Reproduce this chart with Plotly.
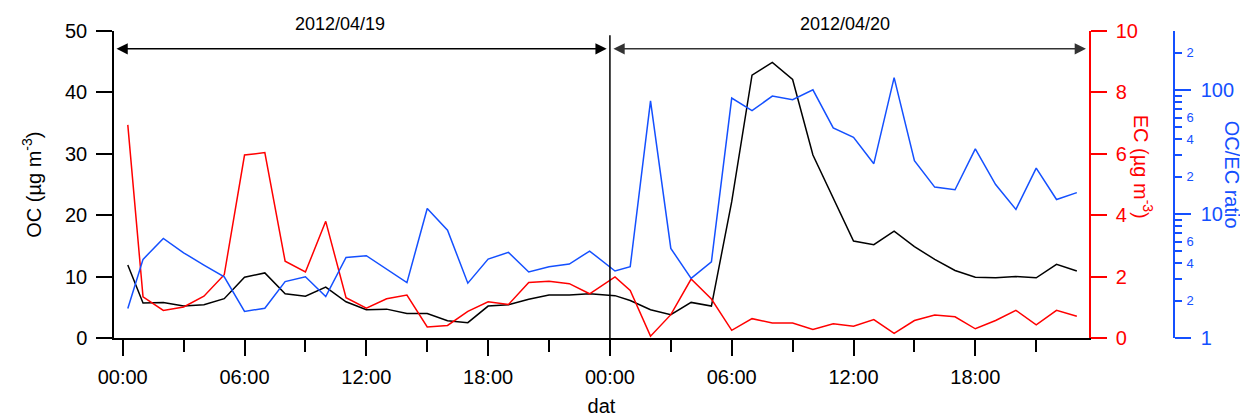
import plotly.graph_objects as go
import pandas as pd

# ---------------- data ----------------
times = (["2012-04-19 00:15"] + [f"2012-04-19 {h:02d}:00" for h in range(1, 24)]
         + ["2012-04-20 00:15"] + [f"2012-04-20 {h:02d}:00" for h in range(1, 24)])

oc = [11.9, 5.7, 5.8, 5.2, 5.4, 6.4, 9.9, 10.6, 7.2, 6.8, 8.3, 5.9,
      4.6, 4.7, 4.0, 4.0, 2.8, 2.5, 5.2, 5.4, 6.3, 7.0, 7.0, 7.2,
      6.9, 6.1, 4.6, 3.8, 5.8, 5.2, 22.2, 42.8, 44.9, 42.1, 29.8, 22.8,
      15.8, 15.2, 17.4, 14.9, 12.8, 11.0, 9.9, 9.8, 10.0, 9.8, 12.0, 10.9]

ec = [6.94, 1.34, 0.90, 1.01, 1.36, 2.06, 5.96, 6.04, 2.50, 2.15, 3.80, 1.31,
      0.97, 1.28, 1.40, 0.36, 0.41, 0.87, 1.18, 1.09, 1.81, 1.85, 1.77, 1.44,
      1.99, 1.55, 0.06, 0.76, 1.92, 1.27, 0.25, 0.63, 0.49, 0.49, 0.28, 0.46,
      0.38, 0.60, 0.15, 0.57, 0.75, 0.69, 0.30, 0.57, 0.90, 0.43, 0.90, 0.71]

ratio = [1.73, 4.31, 6.36, 4.87, 3.88, 3.12, 1.64, 1.74, 2.85, 3.12, 2.16, 4.47,
         4.61, 3.58, 2.80, 11.1, 7.41, 2.77, 4.33, 4.91, 3.41, 3.76, 3.95, 5.03,
         3.47, 3.76, 82.0, 5.28, 3.03, 4.12, 86.2, 68.2, 89.5, 83.6, 100.5, 49.5,
         41.6, 25.5, 126.0, 27.0, 16.5, 15.7, 33.6, 17.3, 10.9, 23.5, 13.1, 14.9]

day_labels = ["2012/04/19", "2012/04/20"]
oc_ticks = [0, 10, 20, 30, 40, 50]
ec_ticks = [0, 2, 4, 6, 8, 10]
ratio_major = [1, 10, 100]
ratio_minor = [2, 3, 4, 5, 6, 7, 8, 9, 20, 30, 40, 50, 60, 70, 80, 90, 200]
ratio_small_lab = [2, 4, 6, 20, 40, 60, 200]

# ---------------- styling ----------------
FONT = "Liberation Sans, Arial, sans-serif"
RED = "#FF0000"
BLUE = "#1450FF"
OFF = 8                      # default page body margin
W, HGT = 1248 - OFF, 417 - OFF
L, R = 114 - OFF, 20
T = 31 - OFF
B = HGT - (338.5 - OFF)
PW = W - L - R


def px(xp):                  # page pixel -> paper fraction (x)
    return (xp - 114) / PW


def py(yp):                  # page pixel -> paper fraction (y)
    return (338.5 - yp) / (338.5 - 31)


x = pd.to_datetime(times)
base = pd.Timestamp("2012-04-19 00:00")
H = pd.Timedelta(hours=1)

fig = go.Figure()
fig.add_trace(go.Scatter(x=x, y=oc, mode="lines", line=dict(color="black", width=1.5),
                         yaxis="y", showlegend=False))
fig.add_trace(go.Scatter(x=x, y=ec, mode="lines", line=dict(color=RED, width=1.5),
                         yaxis="y2", showlegend=False))
fig.add_trace(go.Scatter(x=x, y=ratio, mode="lines", line=dict(color=BLUE, width=1.5),
                         yaxis="y3", showlegend=False))
fig.add_trace(go.Scatter(x=x, y=ratio, mode="lines", line=dict(color=BLUE, width=0),
                         opacity=0, yaxis="y4", showlegend=False, hoverinfo="skip"))

xdom_end = px(1089)
blue_pos = px(1174)

fig.update_layout(
    width=W, height=HGT,
    margin=dict(l=L, r=R, t=T, b=B, autoexpand=False),
    paper_bgcolor="white", plot_bgcolor="white",
    font=dict(family=FONT, size=20, color="black"),
    xaxis=dict(
        domain=[0, xdom_end], type="date",
        range=[base - 0.43 * H, base + 47.6 * H],
        tickformat="%H:%M", tick0="2012-04-19 00:00", dtick=6 * 3600 * 1000,
        ticks="outside", ticklen=16, tickwidth=1.5, tickcolor="black",
        minor=dict(dtick=3 * 3600 * 1000, tick0="2012-04-19 00:00", ticks="outside",
                   ticklen=12, tickwidth=1.5, tickcolor="black", showgrid=False),
        showline=True, linecolor="black", linewidth=1.5,
        showgrid=False, zeroline=False,
        tickfont=dict(size=20), ticklabelstandoff=4,
        title=dict(text="dat", font=dict(size=20), standoff=12),
    ),
    yaxis=dict(
        range=[0, 50], tickvals=oc_ticks,
        ticks="outside", ticklen=16, tickwidth=1.5, tickcolor="black",
        showline=True, linecolor="black", linewidth=1.5,
        showgrid=False, zeroline=False, tickfont=dict(size=20), ticklabelstandoff=5,
    ),
    yaxis2=dict(
        overlaying="y", side="right", anchor="x",
        range=[0, 10], tickvals=ec_ticks,
        ticks="outside", ticklen=16, tickwidth=1.5, tickcolor=RED,
        showline=True, linecolor=RED, linewidth=1.5,
        showgrid=False, zeroline=False,
        tickfont=dict(size=20, color=RED), ticklabelstandoff=5,
    ),
    yaxis3=dict(
        overlaying="y", side="right", anchor="free", position=blue_pos,
        type="log", range=[0, 2.477],
        tickvals=ratio_major, ticktext=[str(v) for v in ratio_major],
        ticks="outside", ticklen=16, tickwidth=1.5, tickcolor=BLUE,
        minor=dict(tickvals=ratio_minor, ticks="outside", ticklen=7, tickwidth=1.5,
                   tickcolor=BLUE, showgrid=False),
        showline=True, linecolor=BLUE, linewidth=1.5,
        showgrid=False, zeroline=False,
        tickfont=dict(size=20, color=BLUE), ticklabelstandoff=6,
    ),
    yaxis4=dict(
        overlaying="y", side="right", anchor="free", position=blue_pos,
        type="log", range=[0, 2.477],
        tickvals=ratio_small_lab, ticktext=[str(v)[0] for v in ratio_small_lab],
        ticks="outside", ticklen=7, tickwidth=1.5, tickcolor=BLUE,
        showline=False, showgrid=False, zeroline=False,
        tickfont=dict(size=13, color=BLUE), ticklabelstandoff=2,
    ),
)

ann = []
# axis titles
ann.append(dict(text="OC (µg m<sup>-3</sup>)", xref="paper", yref="paper",
                x=px(32), y=py(185), textangle=-90, showarrow=False,
                font=dict(size=20, color="black"), xanchor="center", yanchor="middle"))
ann.append(dict(text="EC (µg m<sup>-3</sup>)", xref="paper", yref="paper",
                x=px(1143), y=py(167), textangle=90, showarrow=False,
                font=dict(size=20, color=RED), xanchor="center", yanchor="middle"))
ann.append(dict(text="OC/EC ratio", xref="paper", yref="paper",
                x=px(1232), y=py(175), textangle=90, showarrow=False,
                font=dict(size=20, color=BLUE), xanchor="center", yanchor="middle"))
# day labels
ann.append(dict(text=day_labels[0], xref="x", yref="paper", x=base + 10.7 * H, y=py(24),
                showarrow=False, font=dict(size=18, color="black"),
                xanchor="center", yanchor="middle"))
ann.append(dict(text=day_labels[1], xref="x", yref="paper", x=base + 35.6 * H, y=py(24),
                showarrow=False, font=dict(size=18, color="black"),
                xanchor="center", yanchor="middle"))
# double-headed arrows
ann.append(dict(x=base + 23.84 * H, y=47.1, ax=base - 0.38 * H, ay=47.1,
                xref="x", yref="y", axref="x", ayref="y", text="", showarrow=True,
                arrowhead=2, arrowside="end+start", arrowsize=1.5, arrowwidth=1.5,
                arrowcolor="black"))
ann.append(dict(x=base + 47.45 * H, y=47.1, ax=base + 24.1 * H, ay=47.1,
                xref="x", yref="y", axref="x", ayref="y", text="", showarrow=True,
                arrowhead=2, arrowside="end+start", arrowsize=1.5, arrowwidth=1.5,
                arrowcolor="#333333"))
fig.update_layout(annotations=ann)

fig.add_shape(type="line", xref="x", yref="y", x0=base + 24 * H, x1=base + 24 * H,
              y0=0, y1=49.3, line=dict(color="black", width=1.5))

fig.write_html("out.html")
